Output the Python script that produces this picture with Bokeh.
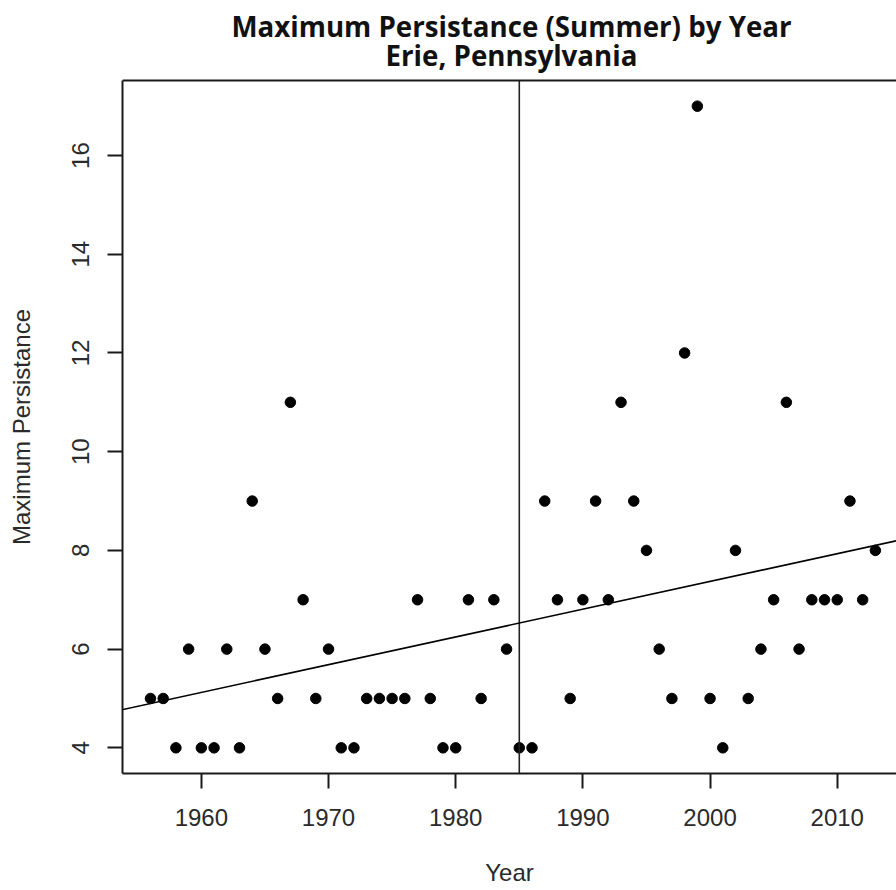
import numpy as np
from bokeh.plotting import figure
from bokeh.core.properties import value
from bokeh.models import ColumnDataSource, Range1d, FixedTicker, Span, Slope
from bokeh.embed import file_html
from bokeh.resources import INLINE

# Maximum summer persistence (days) per year, Erie, Pennsylvania
years = list(range(1956, 2014))
max_persistence = [
    5, 5, 4, 6, 4, 4, 6, 4, 9, 6,      # 1956-1965
    5, 11, 7, 5, 6, 4, 4, 5, 5, 5,     # 1966-1975
    5, 7, 5, 4, 4, 7, 5, 7, 6, 4,      # 1976-1985
    4, 9, 7, 5, 7, 9, 7, 11, 9, 8,     # 1986-1995
    6, 5, 12, 17, 5, 4, 8, 5, 6, 7,    # 1996-2005
    11, 6, 7, 7, 7, 9, 7, 8,           # 2006-2013
]
x_ticks = [1960, 1970, 1980, 1990, 2000, 2010]
y_ticks = [4, 6, 8, 10, 12, 14, 16]
break_year = 1985

title_lines = ["Maximum Persistance (Summer) by Year", "Erie, Pennsylvania"]
X_LABEL = "Year"
Y_LABEL = "Maximum Persistance"

# page geometry (pixels)
W, H = 896, 890
LEFT, BOTTOM, BOX_TOP = 122, 117, 80
box_h = H - BOTTOM - BOX_TOP           # height of the plot box
frame_w = W - LEFT

# plot box data limits; the frame also covers the heading strip above the box
X0, X1 = 1953.8, 2014.66
Y0, Y1 = 3.48, 17.52
y_per_px = (Y1 - Y0) / box_h
x_per_px = (X1 - X0) / frame_w
Y_TOP = Y1 + BOX_TOP * y_per_px

def px_to_x(px):
    return X0 + (px - LEFT) * x_per_px

def px_to_y(py):
    return Y1 + (BOX_TOP - py) * y_per_px

slope, intercept = np.polyfit(np.array(years, float), np.array(max_persistence, float), 1)
source = ColumnDataSource(data=dict(year=years, value=max_persistence))

p = figure(
    width=W, height=H,
    x_range=Range1d(X0, X1), y_range=Range1d(Y0, Y_TOP),
    output_backend="svg", toolbar_location=None,
    min_border_left=LEFT, min_border_right=0,
    min_border_top=0, min_border_bottom=BOTTOM,
    background_fill_color="white", border_fill_color="white",
)
p.outline_line_color = None
p.grid.visible = False

ink = "#1a1a1a"
label_font = "Liberation Sans"

for ax in (p.xaxis[0], p.yaxis[0]):
    ax.axis_line_width = 2
    ax.axis_line_color = ink
    ax.major_tick_line_width = 2
    ax.major_tick_line_color = ink
    ax.major_tick_in = 0
    ax.major_tick_out = 15
    ax.minor_tick_in = 0
    ax.minor_tick_out = 0
    ax.major_label_text_font = label_font
    ax.major_label_text_font_size = "24px"
    ax.major_label_text_color = "#2a2a2a"
    ax.axis_label_text_font = label_font
    ax.axis_label_text_font_size = "24px"
    ax.axis_label_text_font_style = "normal"
    ax.axis_label_text_color = "#2a2a2a"

p.xaxis.ticker = FixedTicker(ticks=x_ticks)
p.yaxis.ticker = FixedTicker(ticks=y_ticks)
p.yaxis.bounds = (Y0, Y1)
p.yaxis.major_label_orientation = "vertical"
p.xaxis.major_label_standoff = 20
p.yaxis.major_label_standoff = 18
p.xaxis.axis_label = X_LABEL
# the frame reaches up into the heading strip, so the label is padded at its
# end with no-break spaces to keep it centred on the plot box
p.yaxis.axis_label = Y_LABEL + "\u00a0" * 12
p.xaxis.axis_label_standoff = 30
p.yaxis.axis_label_standoff = 35

# top edge of the plot box
p.add_layout(Span(location=Y1, dimension="width", line_color=ink, line_width=2))

p.scatter("year", "value", source=source, size=10.5, color="black")

# trend line and the 1985 divider
p.add_layout(Slope(gradient=slope, y_intercept=intercept, line_color="black", line_width=1.6))
p.segment(x0=[break_year], y0=[Y0], x1=[break_year], y1=[Y1],
          line_color="#222222", line_width=1.6)

# two-line heading centred over the box
p.text(x=[px_to_x(511)] * 2, y=[px_to_y(25), px_to_y(54)], text=title_lines,
       text_align="center", text_baseline="alphabetic",
       text_font=value("Open Sans"), text_font_style="bold",
       text_font_size="27.7px", text_color="#111111")

open("out.html", "w").write(file_html(p, INLINE))
